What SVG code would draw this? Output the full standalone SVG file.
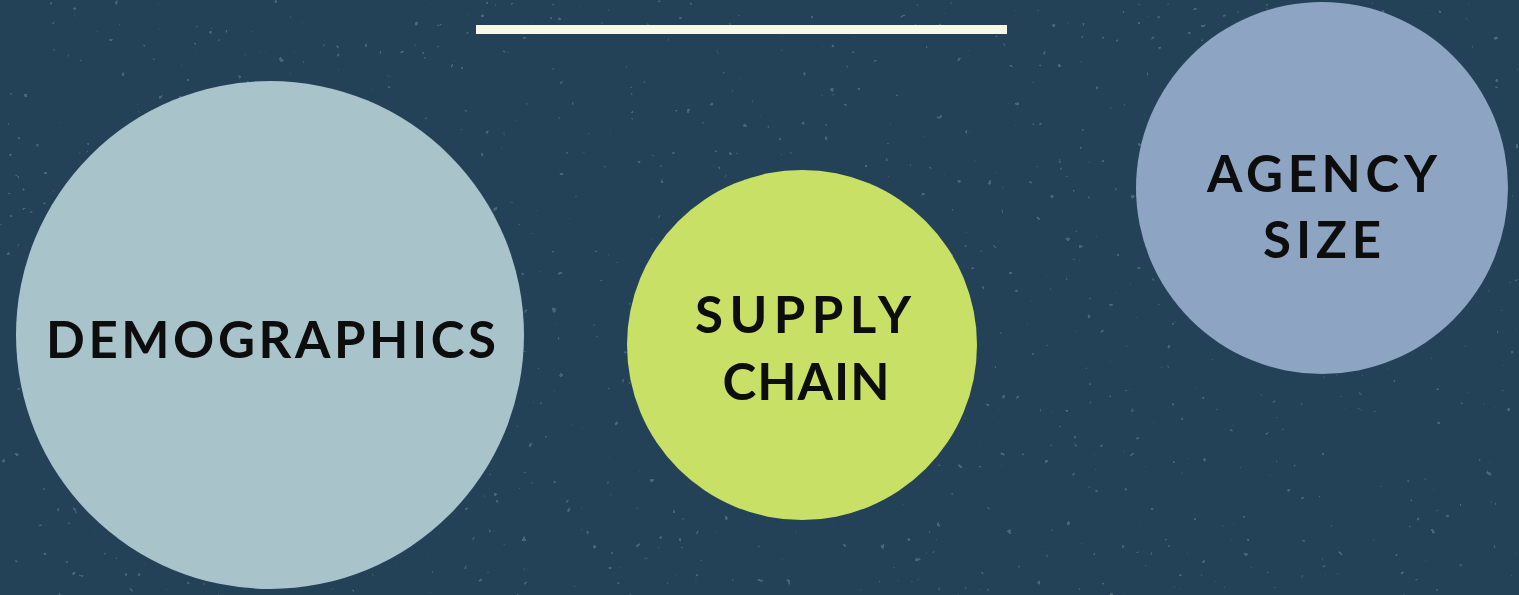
<svg xmlns="http://www.w3.org/2000/svg" width="1519" height="595" viewBox="0 0 1519 595">
  <defs>
    <style>
      .bg { fill: #244257; }
      .label { font-family: "Lato", "Open Sans", "Liberation Sans", sans-serif; font-weight: 700; fill: #0d0d0d; text-anchor: middle; }
    </style>
    <!-- sparse light flecks across the dark backdrop -->
    <filter id="speckle" x="0" y="0" width="100%" height="100%" filterUnits="userSpaceOnUse">
      <feTurbulence type="fractalNoise" baseFrequency="0.14" numOctaves="2" seed="7" result="noise"/>
      <feColorMatrix in="noise" type="matrix" values="0 0 0 0 0.27  0 0 0 0 0.40  0 0 0 0 0.48  24 0 0 0 -18.4"/>
    </filter>
  </defs>

  <rect class="bg" x="0" y="0" width="1519" height="595"/>
  <rect x="0" y="0" width="1519" height="595" fill="#fff" filter="url(#speckle)" opacity="0.35"/>

  <!-- title rule -->
  <rect x="476" y="25" width="531" height="9" fill="#f7f7ea"/>

  <g id="demographics">
    <circle cx="270" cy="335" r="254" fill="#a8c3ca"/>
    <text class="label" x="271" y="358" font-size="51" textLength="450" lengthAdjust="spacing">DEMOGRAPHICS</text>
  </g>

  <g id="supply-chain">
    <circle cx="802" cy="345" r="175" fill="#c8e066"/>
    <text class="label" x="803" y="333" font-size="51" textLength="216" lengthAdjust="spacing">SUPPLY</text>
    <text class="label" x="806" y="400" font-size="51" textLength="167" lengthAdjust="spacing">CHAIN</text>
  </g>

  <g id="agency-size">
    <circle cx="1322" cy="188" r="186" fill="#8da4c2"/>
    <text class="label" x="1322" y="192" font-size="51" textLength="230" lengthAdjust="spacing">AGENCY</text>
    <text class="label" x="1322" y="258" font-size="51" textLength="118" lengthAdjust="spacing">SIZE</text>
  </g>

  <g id="connectors"/>
</svg>
